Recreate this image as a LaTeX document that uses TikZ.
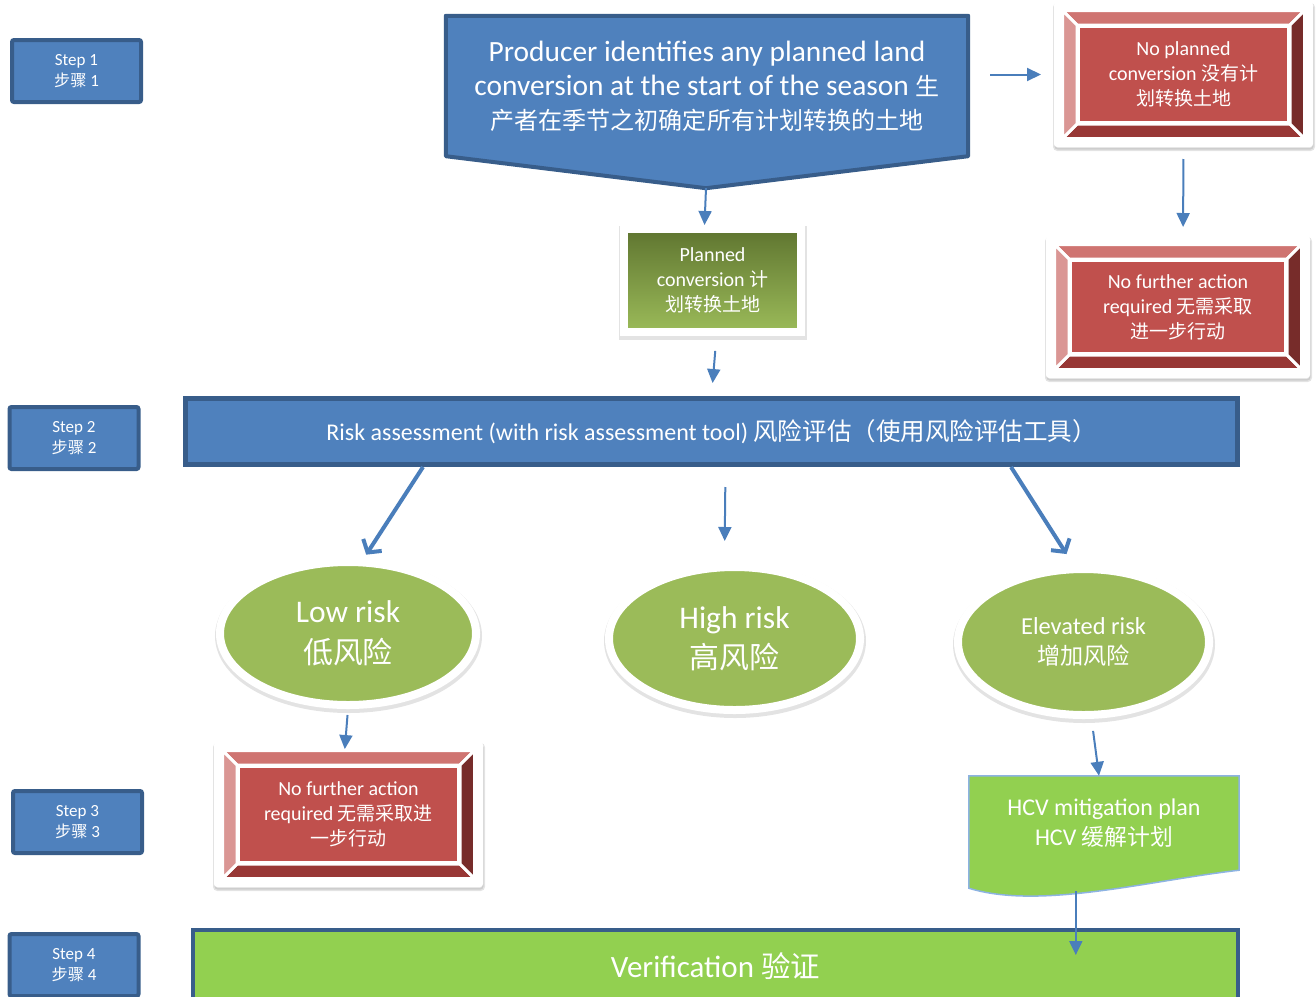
\documentclass[tikz,border=0pt]{standalone}
\usepackage{fontspec}
\setmainfont{Carlito}
\newfontfamily\cjk[Scale=0.95]{Noto Sans CJK SC}
\usetikzlibrary{calc,shapes.geometric,shadows,backgrounds,arrows.meta}

\definecolor{stepblue}{HTML}{4F81BD}
\definecolor{edgeblue}{HTML}{385D8A}
\definecolor{arrowblue}{HTML}{4A7EBB}
\definecolor{facered}{HTML}{C0504D}
\definecolor{bevtop}{HTML}{CF7471}
\definecolor{bevleft}{HTML}{DA9694}
\definecolor{bevright}{HTML}{772C2A}
\definecolor{bevbottom}{HTML}{983735}
\definecolor{riskgreen}{HTML}{9BBB59}
\definecolor{darkolive}{HTML}{5F7530}
\definecolor{lime}{HTML}{92D050}
\definecolor{hcvline}{HTML}{8DB3E2}

\tikzset{
	softshadow/.style={drop shadow={opacity=0.22, shadow xshift=0.5pt, shadow yshift=-2.5pt, draw=black!50, line width=#1}},
	softshadow/.default=11pt,
	stepbox/.style={draw=edgeblue, line width=4pt, fill=stepblue, text=white, align=center,
		minimum width=129pt, minimum height=62pt, rounded corners=2pt, font=\fontsize{17}{21}\selectfont},
	face/.style={fill=facered, draw=white, line width=3pt, text=white, align=center,
		inner sep=0pt, font=\fontsize{20}{25}\selectfont},
	riskoval/.style={ellipse, fill=riskgreen, draw=white, line width=8pt, text=white, align=center,
		inner sep=0pt, softshadow},
	thinarrow/.style={draw=arrowblue, line width=2pt, -{Triangle[length=14pt,width=13pt]}},
	thickarrow/.style={draw=arrowblue, line width=4pt, -{Straight Barb[length=9pt,width=22pt]}}
}

\def\bevelframe(#1){
	\begin{scope}[on background layer]
		\fill[white, rounded corners=3pt, softshadow=3pt] ($(#1.north west)+(-23,-23)$) rectangle ($(#1.south east)+(23,23)$);
		\filldraw[fill=bevtop, draw=white, line width=3pt] ($(#1.north west)+(-14.5,-14.5)$) -- ($(#1.north east)+(14.5,-14.5)$) -- (#1.north east) -- (#1.north west) -- cycle;
		\filldraw[fill=bevbottom, draw=white, line width=3pt] ($(#1.south west)+(-14.5,14.5)$) -- ($(#1.south east)+(14.5,14.5)$) -- (#1.south east) -- (#1.south west) -- cycle;
		\filldraw[fill=bevleft, draw=white, line width=3pt] ($(#1.north west)+(-14.5,-14.5)$) -- (#1.north west) -- (#1.south west) -- ($(#1.south west)+(-14.5,14.5)$) -- cycle;
		\filldraw[fill=bevright, draw=white, line width=3pt] ($(#1.north east)+(14.5,-14.5)$) -- (#1.north east) -- (#1.south east) -- ($(#1.south east)+(14.5,14.5)$) -- cycle;
	\end{scope}
}

\begin{document}
\begin{tikzpicture}[x=1pt, y=-1pt]
		%%%%% START %%%%%
		\useasboundingbox (0,0) rectangle (1316,996);
		\clip (0,0) rectangle (1316,996);
		
		\node[stepbox] (step1) at (76.5,71) {Step 1\\{\cjk 步骤} 1};
		\node[stepbox] (step2) at (74,438) {Step 2\\{\cjk 步骤} 2};
		\node[stepbox] (step3) at (77.5,822) {Step 3\\{\cjk 步骤} 3};
		\node[stepbox] (step4) at (74,965) {Step 4\\{\cjk 步骤} 4};
		
		\node[text=white, align=center, inner sep=0pt, minimum width=522pt, minimum height=140pt,
			font=\fontsize{29.4}{34}\selectfont] (prod) at (707,86)
			{Producer identifies any planned land\\conversion at the start of the season {\cjk\fontsize{25.3}{34}\selectfont 生}\\{\cjk\fontsize{25.3}{34}\selectfont 产者在季节之初确定所有计划转换的土地}};
		\coordinate (tip) at ($(prod.south)+(-1,32)$);
		\begin{scope}[on background layer]
			\filldraw[fill=stepblue, draw=edgeblue, line width=4pt, line join=round] (prod.north west) -- (prod.north east) -- (prod.south east) -- (tip) -- (prod.south west) -- cycle;
		\end{scope}
		
		\node[face, minimum width=210pt, minimum height=96pt] (noplan) at (1183.5,74.5) {No planned\\conversion {\cjk 没有计}\\{\cjk 划转换土地}};
		\bevelframe(noplan)
		\node[face, minimum width=215pt, minimum height=93pt] (nfatop) at (1178,307) {No further action\\required {\cjk 无需采取}\\{\cjk 进一步行动}};
		\bevelframe(nfatop)
		
		\node[draw=white, line width=8pt, top color=darkolive, bottom color=riskgreen, text=white, align=center,
			minimum width=177pt, minimum height=103pt, softshadow, font=\fontsize{20}{25}\selectfont] (planned) at (712.5,280.5)
			{Planned\\conversion {\cjk 计}\\{\cjk 划转换土地}};
		
		\node[draw=edgeblue, line width=5pt, fill=stepblue, text=white, minimum width=1052pt, minimum height=66pt,
			font=\fontsize{24}{28}\selectfont] (risk) at (711.5,431.5)
			{Risk assessment (with risk assessment tool) {\cjk\fontsize{25.8}{28}\selectfont 风险评估（使用风险评估工具）}};
		
		\node[riskoval, minimum width=256pt, minimum height=143pt, font=\fontsize{31.5}{41}\selectfont] (low) at (348,633.5) {Low risk\\{\cjk 低风险}};
		\node[riskoval, minimum width=251pt, minimum height=143pt, font=\fontsize{31.5}{40}\selectfont] (high) at (734.5,638.5) {High risk\\{\cjk 高风险}};
		\node[riskoval, minimum width=251pt, minimum height=146pt, font=\fontsize{24.4}{30}\selectfont] (elev) at (1083.5,642) {Elevated risk\\{\cjk 增加风险}};
		
		\node[face, minimum width=220pt, minimum height=96pt] (nfalow) at (348.5,814.5) {No further action\\required {\cjk 无需采取进}\\{\cjk 一步行动}};
		\bevelframe(nfalow)
		
		\node[text=white, align=center, minimum width=270pt, minimum height=94pt, font=\fontsize{24}{30}\selectfont] (hcv) at (1104,823)
			{HCV mitigation plan\\HCV {\cjk 缓解计划}};
		\begin{scope}[on background layer]
			\filldraw[fill=lime, draw=hcvline, line width=1.5pt] (hcv.south east) -- (hcv.north east) -- (hcv.north west) -- ($(hcv.south west)+(0,18)$)
				.. controls ($(hcv.south west)+(71,40)$) and ($(hcv.south east)+(-89,10)$) .. (hcv.south east) -- cycle;
		\end{scope}
		\coordinate (wave) at ($(hcv.south west)+(107,21)$);
		
		\node[draw=edgeblue, line width=4pt, fill=lime, text=white, minimum width=1045pt, minimum height=72pt,
			font=\fontsize{31}{36}\selectfont] (verif) at (715.5,966) {Verification {\cjk 验证}};
		
		% connectors
		\draw[thinarrow] (tip) -- ($(planned.north)+(-8,0)$);
		\draw[thinarrow, shorten <=15pt, shorten >=13pt] ($(planned.south)+(4,0)$) -- (risk.north);
		\draw[thinarrow, shorten <=22pt, shorten >=36pt] (prod.east |- noplan) -- (noplan);
		\draw[thinarrow, shorten <=35pt, shorten >=32pt] (noplan.south) -- ($(nfatop.north)+(5,0)$);
		
		\draw[thickarrow, shorten >=4pt] ($(risk.south west)+(240,0)$) -- ($(low.north)+(16,0)$);
		\draw[thinarrow, shorten <=20pt, shorten >=22pt] ($(risk.south)+(14,0)$) -- ($(high.north)+(-10,0)$);
		\draw[thickarrow, shorten >=13pt] ($(risk.south east)+(-229,0)$) -- ($(elev.north)+(-10,0)$);
		
		\draw[thinarrow, shorten <=6pt, shorten >=16pt] (low.south) -- ($(nfalow.north)+(-5,0)$);
		\draw[thinarrow, shorten <=12pt] ($(elev.south)+(8,0)$) -- ($(hcv.north)+(-5,0)$);
		\draw[thinarrow, shorten >=11pt] (wave) -- (wave |- verif.center);
		
		%%%%% END %%%%%
\end{tikzpicture}
\end{document}
